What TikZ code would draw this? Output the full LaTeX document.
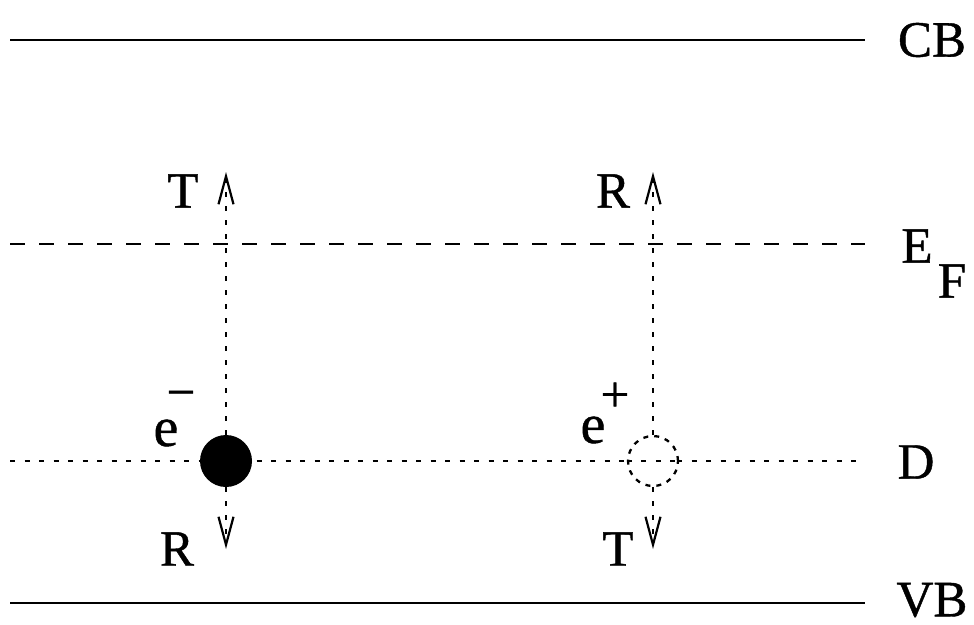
\documentclass[tikz,border=0pt]{standalone}
\usepackage{fontspec}
\setmainfont[FakeBold=0.8]{Liberation Serif}
\usetikzlibrary{arrows.meta}
\begin{document}
\begin{tikzpicture}[x=1pt,y=-1pt,
  lbl/.style={inner sep=0pt,font=\fontsize{51}{55}\selectfont},
  band/.style={line width=2.8pt},
  fermi/.style={line width=2.5pt,dash pattern=on 15pt off 14pt},
  level/.style={line width=2.5pt,dash pattern=on 5pt off 9.5pt},
  trans/.style={line width=2.5pt,dash pattern=on 5pt off 9pt,
    -{Straight Barb[length=28pt,width=15pt,line width=2.2pt]}},
  elec/.style={circle,fill=black,minimum size=52pt,inner sep=0pt},
  hole/.style={circle,draw,line width=2.3pt,dash pattern=on 5pt off 6pt,minimum size=50pt,inner sep=0pt}]
\useasboundingbox (0,0) rectangle (974,624);
% band edges
\coordinate (cbL) at (10,40);  \coordinate (cbR) at (865,40);
\coordinate (efL) at (10,244); \coordinate (efR) at (865,244);
\coordinate (dL) at (10,461);  \coordinate (dR) at (865,461);
\coordinate (vbL) at (10,603); \coordinate (vbR) at (865,603);
\draw[band] (cbL) -- (cbR);
\draw[fermi] (efL) -- (efR);
\draw[level] (dL) -- (dR);
\draw[band] (vbL) -- (vbR);
% particles
\node[elec] (el) at (226,461) {};
\node[hole,fill=white] (ho) at (653,461) {};
\draw[level] (ho.west) -- (ho.east);
% arrow ends
\coordinate (elT) at (226,172); \coordinate (elB) at (226,549);
\coordinate (hoT) at (653,172); \coordinate (hoB) at (653,549);
\draw[trans] (el.north) -- (elT);
\draw[trans] (el.south) -- (elB);
\draw[trans] (ho.north) -- (hoT);
\draw[trans] (ho.south) -- (hoB);
% labels
\node[lbl] (cb) at (932,40) {CB};
\node[lbl] (ef) at (917,246) {E};
\node[lbl] (ff) at (952,281) {F};
\node[lbl] (dd) at (916,462) {D};
\node[lbl] (vb) at (932,600) {VB};
\node[lbl] (t1) at (183,191) {T};
\node[lbl] (r1) at (613,191) {R};
\node[lbl] (r2) at (177,549) {R};
\node[lbl] (t2) at (618,549) {T};
\node[lbl,font=\fontsize{56}{60}\selectfont] (e1) at (166,433) {e};
\node[lbl] (m1) at (181,400) {\char"2212};
\node[lbl,font=\fontsize{56}{60}\selectfont] (e2) at (593,430) {e};
\node[lbl] (p2) at (615,397) {+};
\end{tikzpicture}
\end{document}
